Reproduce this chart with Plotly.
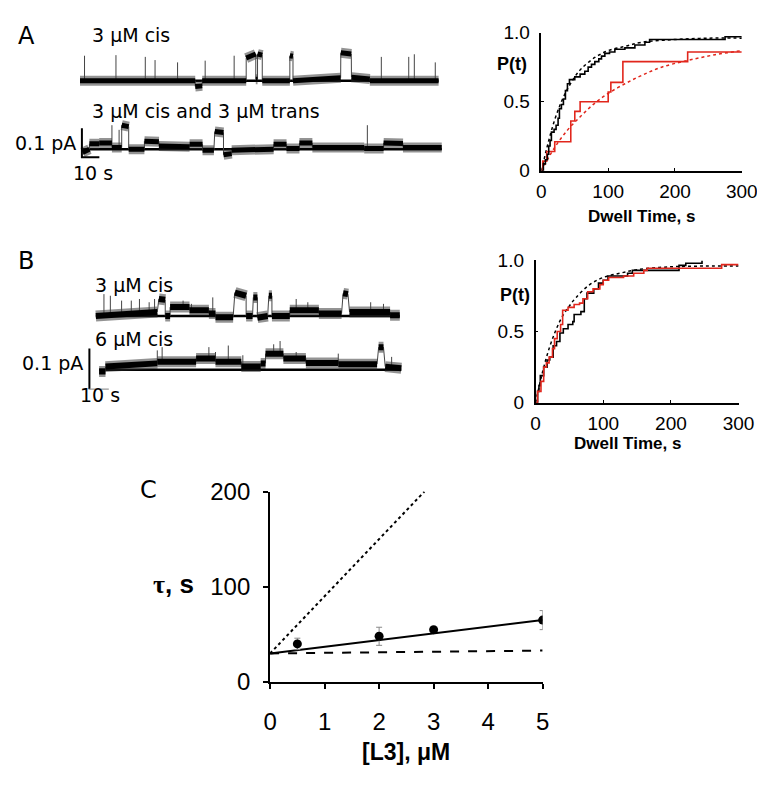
import plotly.graph_objects as go

W, H = 765, 801

# ---------------- Panel A / B single-channel traces ----------------
# level segments: (t_start s, t_end s, I_start pA, I_end pA)
A1_segments = [
    (0.0, 66.0, 0.0, 0.0), (66.0, 70.0, -0.02, -0.018), (70.0, 95.2, 0.0, 0.0),
    (95.2, 100.7, 0.078, 0.092), (100.7, 101.7, 0.005, 0.005), (101.7, 104.4, 0.092, 0.088),
    (104.4, 120.2, 0.0, 0.0), (120.2, 122.0, 0.086, 0.084), (122.0, 149.3, 0.0, 0.01),
    (149.4, 155.4, 0.096, 0.092), (155.5, 166.0, 0.012, 0.006), (166.0, 205.4, 0.0, 0.0),
]
A1_spikes = [(2.6, 0.086), (20.6, 0.088), (37.4, 0.082), (43.0, 0.071), (55.9, 0.063),
             (71.7, 0.069), (88.3, 0.086), (172.6, 0.082), (188.3, 0.082), (191.5, 0.091),
             (203.5, 0.063)]

A2_segments = [
    (1.5, 5.4, -0.011, 0.0), (5.4, 11.0, 0.019, 0.019), (11.0, 18.3, 0.022, 0.022),
    (18.3, 23.9, 0.006, 0.006), (23.9, 27.9, 0.083, 0.078), (27.9, 36.9, 0.0, 0.0),
    (36.9, 45.2, 0.028, 0.026), (45.2, 62.8, 0.011, 0.009), (62.8, 70.2, 0.017, 0.017),
    (70.2, 76.7, -0.003, -0.003), (77.2, 82.2, 0.061, 0.058), (82.2, 86.9, -0.019, -0.015),
    (86.9, 110.9, -0.003, 0.0), (110.9, 118.3, 0.017, 0.017), (118.3, 125.7, 0.003, 0.003),
    (125.7, 133.1, 0.022, 0.022), (133.1, 162.8, 0.006, 0.006), (162.8, 173.9, 0.003, 0.003),
    (173.9, 185.0, 0.022, 0.02), (185.0, 207.2, 0.006, 0.006),
]
A2_spikes = [(18.3, 0.083), (22.4, 0.067), (164.6, 0.083)]

B1_segments = [
    (0.0, 31.7, 0.0, 0.01), (32.5, 35.8, 0.042, 0.04), (35.8, 38.3, 0.0, 0.0),
    (38.3, 48.3, 0.022, 0.022), (48.3, 58.3, 0.014, 0.014), (58.3, 61.7, 0.006, 0.006),
    (61.7, 70.8, -0.003, -0.003), (71.7, 77.5, 0.058, 0.05), (77.5, 80.8, 0.0, 0.0),
    (81.2, 83.3, 0.046, 0.046), (83.3, 88.6, -0.004, 0.0), (89.2, 90.8, 0.05, 0.05),
    (90.8, 100.0, 0.0, 0.0), (100.0, 115.0, 0.014, 0.014), (115.0, 126.7, 0.006, 0.006),
    (127.5, 130.0, 0.056, 0.054), (130.8, 151.7, 0.01, 0.01), (151.7, 156.7, 0.002, 0.002),
]
B1_spikes = [(4.2, 0.054), (7.5, 0.05), (13.3, 0.038), (18.3, 0.038), (22.5, 0.042),
             (27.5, 0.034), (30.3, 0.042), (45.0, 0.038), (49.3, 0.03), (60.3, 0.046),
             (103.3, 0.042), (109.3, 0.034), (141.7, 0.034), (148.3, 0.03)]

B2_segments = [
    (1.7, 5.0, -0.004, -0.004), (5.0, 31.7, 0.008, 0.016), (31.7, 51.7, 0.02, 0.02),
    (51.7, 61.7, 0.028, 0.028), (61.7, 75.0, 0.02, 0.02), (75.0, 85.0, 0.008, 0.008),
    (85.0, 87.5, 0.016, 0.016), (87.5, 96.7, 0.04, 0.04), (96.7, 108.3, 0.028, 0.028),
    (108.3, 125.0, 0.017, 0.017), (125.0, 145.0, 0.014, 0.014), (145.8, 148.3, 0.056, 0.056),
    (149.2, 157.5, 0.008, 0.004),
]
B2_spikes = [(31.7, 0.048), (34.2, 0.056), (58.3, 0.056), (61.7, 0.044), (68.3, 0.06),
             (75.8, 0.036), (91.7, 0.063), (95.0, 0.071), (103.3, 0.044), (125.0, 0.04),
             (152.5, 0.032)]

SCALE_PA = 0.1
SCALE_S = 10

# ---------------- Dwell-time distributions P(t) ----------------
A_cis_t = [0, 3, 6, 9, 11, 13, 15, 19, 22, 25, 27, 30, 33, 36, 39, 42, 50, 58, 65, 70, 75,
           80, 86, 90, 95, 102, 110, 125, 140, 155, 162, 275, 300]
A_cis_P = [0, 0.05, 0.08, 0.12, 0.18, 0.22, 0.28, 0.30, 0.33, 0.38, 0.45, 0.48, 0.52, 0.58,
           0.63, 0.66, 0.68, 0.70, 0.72, 0.75, 0.77, 0.79, 0.81, 0.83, 0.85, 0.86, 0.88, 0.89,
           0.91, 0.93, 0.95, 0.97, 0.97]
A_trans_t = [0, 2, 8, 20, 44, 50, 58, 100, 104, 122, 219, 300]
A_trans_P = [0, 0.07, 0.14, 0.21, 0.36, 0.43, 0.5, 0.57, 0.64, 0.79, 0.86, 0.86]
A_cis_fit_t = [0, 10, 20, 30, 40, 50, 60, 80, 100, 125, 150, 200, 250, 300]
A_cis_fit_P = [0, 0.2, 0.37, 0.5, 0.6, 0.68, 0.74, 0.82, 0.87, 0.9, 0.93, 0.95, 0.96, 0.96]
A_trans_fit_t = [0, 20, 40, 60, 80, 100, 125, 150, 180, 220, 260, 300]
A_trans_fit_P = [0, 0.17, 0.3, 0.4, 0.49, 0.56, 0.63, 0.69, 0.75, 0.80, 0.84, 0.87]

B_3uM_t = [0, 3, 5, 7, 12, 17, 21, 26, 31, 36, 41, 48, 55, 57, 67, 72, 76, 86, 93, 100, 107,
           136, 143, 212, 222, 246]
B_3uM_P = [0, 0.08, 0.12, 0.19, 0.25, 0.3, 0.32, 0.4, 0.43, 0.49, 0.52, 0.55, 0.57, 0.62,
           0.64, 0.73, 0.77, 0.8, 0.84, 0.86, 0.89, 0.91, 0.93, 0.965, 0.98, 1.0]
B_6uM_t = [0, 3, 8, 12, 16, 20, 25, 28, 32, 37, 40, 48, 57, 65, 70, 77, 85, 95, 100, 108,
           130, 145, 160, 165, 275, 300]
B_6uM_P = [0, 0.08, 0.15, 0.25, 0.28, 0.32, 0.38, 0.45, 0.5, 0.55, 0.65, 0.67, 0.69, 0.7,
           0.73, 0.78, 0.8, 0.83, 0.86, 0.88, 0.89, 0.91, 0.93, 0.945, 0.97, 0.97]
B_fit_t = [0, 10, 20, 30, 40, 50, 60, 80, 100, 125, 150, 200, 250, 300]
B_fit_P = [0, 0.21, 0.38, 0.51, 0.61, 0.68, 0.74, 0.83, 0.88, 0.91, 0.935, 0.955, 0.96, 0.96]

# ---------------- Panel C ----------------
L3_conc = [0.5, 2, 3, 5]
tau_mean = [40, 48, 55, 65]
tau_err = [6, 9.5, 2, 10]
fit_x = [0, 5]
fit_solid = [30, 65]
fit_dashed = [30, 33]
dotted_x = [0, 2.83]
fit_dotted = [30, 200]

RED = "#e1261c"


def dom_x(p0, p1):
    return [p0 / W, p1 / W]


def dom_y(top, bottom):
    return [1 - bottom / H, 1 - top / H]


fig = go.Figure()


def level_at(segs, t):
    for t0, t1, i0, i1 in segs:
        if t0 <= t <= t1:
            return i0 + (i1 - i0) * (t - t0) / (t1 - t0)
    return 0.0


def add_channel_trace(segs, spikes, ax, core_w):
    xa, ya = "x" + ax, "y" + ax
    # idealized baseline
    fig.add_trace(go.Scatter(x=[segs[0][0], segs[-1][1]], y=[0, 0], mode="lines",
                             line=dict(color="black", width=2.5), xaxis=xa, yaxis=ya,
                             hoverinfo="skip", showlegend=False))
    bx, by, lx, ly = [], [], [], []
    for k, (t0, t1, i0, i1) in enumerate(segs):
        bx += [t0, t1, None]
        by += [i0, i1, None]
        if k + 1 < len(segs):
            lx += [t1, segs[k + 1][0], None]
            ly += [i1, segs[k + 1][2], None]
    for t, top in spikes:
        base = level_at(segs, t)
        lx += [t, t, None]
        ly += [base, top, None]
    fig.add_trace(go.Scatter(x=bx, y=by, mode="lines",
                             line=dict(color="rgba(40,40,40,0.5)", width=core_w + 5),
                             xaxis=xa, yaxis=ya, hoverinfo="skip", showlegend=False))
    fig.add_trace(go.Scatter(x=lx, y=ly, mode="lines", line=dict(color="#444", width=1),
                             xaxis=xa, yaxis=ya, hoverinfo="skip", showlegend=False))
    fig.add_trace(go.Scatter(x=bx, y=by, mode="lines", line=dict(color="#000", width=core_w),
                             xaxis=xa, yaxis=ya, hoverinfo="skip", showlegend=False))


add_channel_trace(A1_segments, A1_spikes, "", 5)
add_channel_trace(A2_segments, A2_spikes, "2", 5)
add_channel_trace(B1_segments, B1_spikes, "3", 6)
add_channel_trace(B2_segments, B2_spikes, "4", 6)

# scale bars (A on axis 2, B on axis 4)
A_bar_t, A_bar_i = 1.1, -0.0277
fig.add_trace(go.Scatter(x=[A_bar_t, A_bar_t, A_bar_t + SCALE_S],
                         y=[A_bar_i + SCALE_PA, A_bar_i, A_bar_i], mode="lines",
                         line=dict(color="black", width=2), xaxis="x2", yaxis="y2",
                         hoverinfo="skip", showlegend=False))
B_bar_t, B_bar_i = -3.3, -0.0476
fig.add_trace(go.Scatter(x=[B_bar_t, B_bar_t], y=[B_bar_i + SCALE_PA, B_bar_i], mode="lines",
                         line=dict(color="black", width=2), xaxis="x4", yaxis="y4",
                         hoverinfo="skip", showlegend=False))
fig.add_trace(go.Scatter(x=[B_bar_t, B_bar_t + SCALE_S], y=[B_bar_i, B_bar_i], mode="lines",
                         line=dict(color="#999", width=1.2), xaxis="x4", yaxis="y4",
                         hoverinfo="skip", showlegend=False))

# P(t) panels
def add_step(x, y, color, ax):
    fig.add_trace(go.Scatter(x=x, y=y, mode="lines", line=dict(color=color, width=1.6, shape="hv"),
                             xaxis="x" + ax, yaxis="y" + ax, showlegend=False))


def add_fit(x, y, color, ax):
    fig.add_trace(go.Scatter(x=x, y=y, mode="lines",
                             line=dict(color=color, width=1.5, dash="dot", shape="spline"),
                             xaxis="x" + ax, yaxis="y" + ax, showlegend=False))


add_fit(A_trans_fit_t, A_trans_fit_P, RED, "5")
add_fit(A_cis_fit_t, A_cis_fit_P, "black", "5")
add_step(A_trans_t, A_trans_P, RED, "5")
add_step(A_cis_t, A_cis_P, "black", "5")

add_fit(B_fit_t, B_fit_P, "black", "6")
add_step(B_3uM_t, B_3uM_P, "black", "6")
add_step(B_6uM_t, B_6uM_P, RED, "6")

# Panel C
fig.add_trace(go.Scatter(x=dotted_x, y=fit_dotted, mode="lines",
                         line=dict(color="black", width=2, dash="dot"),
                         xaxis="x7", yaxis="y7", showlegend=False))
fig.add_trace(go.Scatter(x=fit_x, y=fit_dashed, mode="lines",
                         line=dict(color="black", width=2, dash="dash"),
                         xaxis="x7", yaxis="y7", showlegend=False))
fig.add_trace(go.Scatter(x=fit_x, y=fit_solid, mode="lines",
                         line=dict(color="black", width=2),
                         xaxis="x7", yaxis="y7", showlegend=False))
fig.add_trace(go.Scatter(x=L3_conc, y=tau_mean, mode="markers",
                         marker=dict(color="black", size=9),
                         error_y=dict(type="data", array=tau_err, color="#888", thickness=1, width=3),
                         xaxis="x7", yaxis="y7", showlegend=False))

hidden = dict(visible=False, showgrid=False, zeroline=False, fixedrange=True)
A_x = dict(hidden, range=[0, 208], domain=dom_x(67, 67 + 1.8 * 208))
B_x = dict(hidden, range=[-5, 160], domain=dom_x(73.3, 73.3 + 2 * 165))

ARIAL = "Liberation Sans, Arial, sans-serif"
DEJA = "DejaVu Sans, sans-serif"

pt_common = dict(showgrid=False, zeroline=False, showline=True, linecolor="black", linewidth=1.5,
                 ticks="inside", ticklen=3, tickcolor="black", tickwidth=1.2,
                 tickfont=dict(family=ARIAL, size=19, color="black"))

c_common = dict(showgrid=False, zeroline=False, showline=True, linecolor="black", linewidth=2,
                ticks="outside", ticklen=5, tickcolor="black", tickwidth=2,
                tickfont=dict(family=ARIAL, size=24, color="black"))

fig.update_layout(
    width=W, height=H, autosize=False,
    margin=dict(l=0, r=0, t=0, b=0),
    paper_bgcolor="white", plot_bgcolor="rgba(0,0,0,0)",
    showlegend=False,
    xaxis=dict(A_x, anchor="y"),
    yaxis=dict(hidden, range=[(60.7 - 75) / 300, (60.7 - 25) / 300], domain=dom_y(25, 75), anchor="x"),
    xaxis2=dict(A_x, anchor="y2"),
    yaxis2=dict(hidden, range=[(131.7 - 150) / 300, (131.7 - 95) / 300], domain=dom_y(95, 150), anchor="x2"),
    xaxis3=dict(B_x, anchor="y3"),
    yaxis3=dict(hidden, range=[(304.3 - 320) / 420, (304.3 - 262) / 420], domain=dom_y(262, 320), anchor="x3"),
    xaxis4=dict(B_x, anchor="y4"),
    yaxis4=dict(hidden, range=[(360 - 385) / 420, (360 - 322) / 420], domain=dom_y(322, 385), anchor="x4"),
    xaxis5=dict(pt_common, range=[0, 300], domain=dom_x(542.7, 749.3), anchor="y5",
                tickvals=[0, 100, 200, 300], ticklabelstandoff=3),
    yaxis5=dict(pt_common, range=[0, 1], domain=dom_y(11, 154), anchor="x5",
                tickvals=[0, 0.5, 1], ticktext=["0", "0.5", "1.0"], ticklabelstandoff=6),
    xaxis6=dict(pt_common, range=[0, 300], domain=dom_x(536.7, 746), anchor="y6",
                tickvals=[0, 100, 200, 300], ticklabelstandoff=3),
    yaxis6=dict(pt_common, range=[0, 1], domain=dom_y(246.7, 394), anchor="x6",
                tickvals=[0, 0.5, 1], ticktext=["0", "0.5", "1.0"], ticklabelstandoff=6),
    xaxis7=dict(c_common, range=[0, 5], domain=dom_x(263, 544), anchor="y7",
                tickvals=[0, 1, 2, 3, 4, 5], ticklabelstandoff=12),
    yaxis7=dict(c_common, range=[0, 200], domain=dom_y(486, 683), anchor="x7",
                tickvals=[0, 100, 200], ticklabelstandoff=8),
)


def label(text, x, y, size, family=DEJA, bold=False, xanchor="center"):
    if bold:
        text = "<b>" + text + "</b>"
    fig.add_annotation(text=text, x=x / W, y=1 - y / H, xref="paper", yref="paper",
                       xanchor=xanchor, yanchor="middle", showarrow=False,
                       font=dict(family=family, size=size, color="black"))


label("A", 12, 15, 24)
label("3 μM cis", 77, 13, 19, xanchor="left")
label("3 μM cis and 3 μM trans", 77, 92, 19, xanchor="left")
label("0.1 pA", 65, 125, 19, xanchor="right")
label("10 s", 80, 156, 19)
label("B", 11, 247, 24)
label("3 μM cis", 80, 272, 19, xanchor="left")
label("6 μM cis", 80, 328, 19, xanchor="left")
label("0.1 pA", 72, 353, 19, xanchor="right")
label("10 s", 88, 386, 19)
label("C", 138, 484, 24)

label("P(t)", 512, 43, 18, family=ARIAL, bold=True)
label("Dwell Time, s", 646, 201, 17, family=ARIAL, bold=True)
label("P(t)", 515, 283, 18, family=ARIAL, bold=True)
label("Dwell Time, s", 632, 436, 17, family=ARIAL, bold=True)
label("<span style='font-family:Liberation Serif'>τ</span>, s", 163, 582, 26, family=ARIAL, bold=True)
label("[L3], μM", 403, 755, 23, family=ARIAL, bold=True)

fig.write_html("out.html")
